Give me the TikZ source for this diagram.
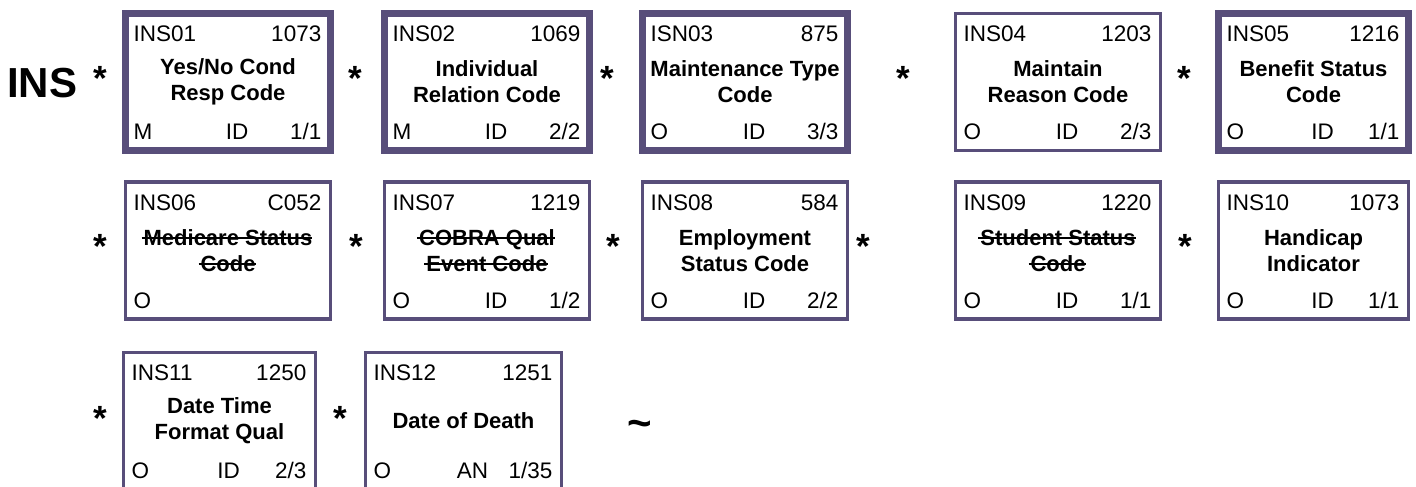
\documentclass[tikz,border=0pt]{standalone}
\usepackage{fontspec}
\setmainfont{Liberation Sans}
\usetikzlibrary{positioning}
\definecolor{boxline}{RGB}{88,78,122}
\tikzset{field/.style={rectangle,draw=boxline,line width=3.3pt,minimum width=205pt,minimum height=137pt,inner sep=0pt,outer sep=0pt,align=center,font=\bfseries\fontsize{22}{26}\selectfont},
  key field/.style={field,line width=6.7pt},
  tag/.style={inner sep=0pt,font=\fontsize{22.5}{27}\selectfont},
  seg name/.style={inner sep=0pt,anchor=base west,font=\bfseries\fontsize{42}{42}\selectfont},
  rep/.style={inner sep=0pt,anchor=base,font=\bfseries\fontsize{35}{35}\selectfont},}
% struck-out element name
\newsavebox{\strikebox}
\newcommand{\struck}[1]{\sbox{\strikebox}{#1}\rlap{\kern-2pt\rule[6.3pt]{\dimexpr\wd\strikebox+2pt\relax}{1.8pt}}\usebox{\strikebox}}
% element id, reference number and requirement
\newcommand{\fieldtop}[4]{%
  \node[tag,anchor=base west] (#1-id) at ([shift={(8pt,-28pt)}]#1.north west) {#2};
  \node[tag,anchor=base east] (#1-num) at ([shift={(-9pt,-28pt)}]#1.north east) {#3};
  \node[tag,anchor=base west] (#1-req) at ([shift={(8pt,11pt)}]#1.south west) {#4};}
% data type and min/max length
\newcommand{\fieldtype}[3]{%
  \node[tag,anchor=base] (#1-type) at ([shift={(9pt,11pt)}]#1.south) {#2};
  \node[tag,anchor=base east] (#1-len) at ([shift={(-9pt,11pt)}]#1.south east) {#3};}

\begin{document}
\begin{tikzpicture}[x=1pt,y=-1pt]
   \useasboundingbox (0,0) rectangle (1416,487);
   \node[seg name] (seg) at (7,97) {INS};
   % first row
   \node[key field] (ins01) at (228,82) {Yes/No Cond\\Resp Code};
   \node[key field] (ins02) [right = 54pt of ins01] {Individual\\Relation Code};
   \node[key field] (ins03) [right = 53pt of ins02] {Maintenance Type\\Code};
   \node[field] (ins04) [right = 108pt of ins03] {Maintain\\Reason Code};
   \node[key field,minimum width=190pt] (ins05) [right = 58pt of ins04] {Benefit Status\\Code};
   % second row
   \node[field] (ins06) [below = 31.5pt of ins01] {\struck{Medicare Status}\\\struck{Code}};
   \node[field] (ins07) [right = 54pt of ins06] {\struck{COBRA Qual}\\\struck{Event Code}};
   \node[field] (ins08) [right = 53pt of ins07] {Employment\\Status Code};
   \node[field] (ins09) [right = 108pt of ins08] {\struck{Student Status}\\\struck{Code}};
   \node[field,minimum width=190pt] (ins10) [right = 58pt of ins09] {Handicap\\Indicator};
   % third row
   \node[field,minimum width=192pt] (ins11) [below = 33.5pt of ins06, xshift=-8.5pt] {Date Time\\Format Qual};
   \node[field,minimum width=196pt] (ins12) [right = 50pt of ins11] {Date of Death};

   \fieldtop{ins01}{INS01}{1073}{M} \fieldtype{ins01}{ID}{1/1}
   \fieldtop{ins02}{INS02}{1069}{M} \fieldtype{ins02}{ID}{2/2}
   \fieldtop{ins03}{ISN03}{875}{O} \fieldtype{ins03}{ID}{3/3}
   \fieldtop{ins04}{INS04}{1203}{O} \fieldtype{ins04}{ID}{2/3}
   \fieldtop{ins05}{INS05}{1216}{O} \fieldtype{ins05}{ID}{1/1}
   \fieldtop{ins06}{INS06}{C052}{O}
   \fieldtop{ins07}{INS07}{1219}{O} \fieldtype{ins07}{ID}{1/2}
   \fieldtop{ins08}{INS08}{584}{O} \fieldtype{ins08}{ID}{2/2}
   \fieldtop{ins09}{INS09}{1220}{O} \fieldtype{ins09}{ID}{1/1}
   \fieldtop{ins10}{INS10}{1073}{O} \fieldtype{ins10}{ID}{1/1}
   \fieldtop{ins11}{INS11}{1250}{O} \fieldtype{ins11}{ID}{2/3}
   \fieldtop{ins12}{INS12}{1251}{O} \fieldtype{ins12}{AN}{1/35}

   % separators
   \node[rep] (sep1) at (100,90) {*};
   \node[rep] (sep2) at (355.5,90) {*};
   \node[rep] (sep3) at (607.5,90) {*};
   \node[rep] (sep4) at (903,90) {*};
   \node[rep] (sep5) at (1184,90) {*};
   \node[rep] (sep6) at (100,258) {*};
   \node[rep] (sep7) at (356,258) {*};
   \node[rep] (sep8) at (613.5,258) {*};
   \node[rep] (sep9) at (863,258) {*};
   \node[rep] (sep10) at (1185,258) {*};
   \node[rep] (sep11) at (100,430) {*};
   \node[rep] (sep12) at (340.5,430) {*};
   \node[seg name,anchor=base] (term) at (640,437) {\textasciitilde};
\end{tikzpicture}
\end{document}
